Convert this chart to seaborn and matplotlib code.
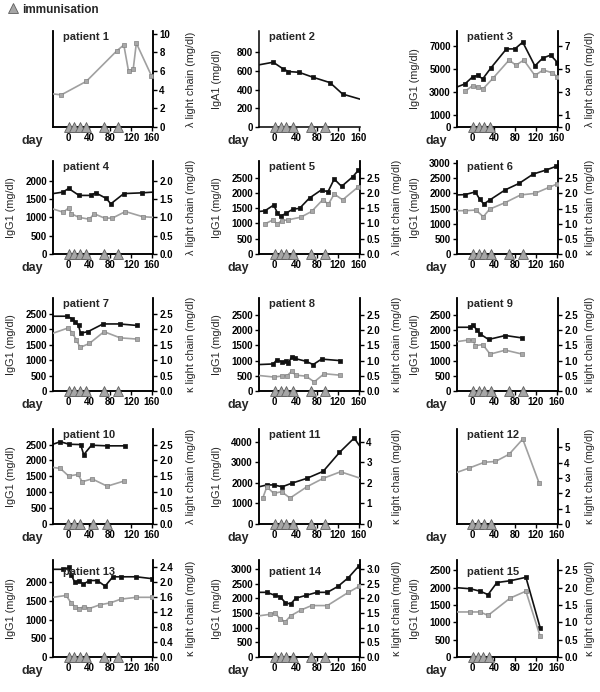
import numpy as np
import pandas as pd
import seaborn as sns
import matplotlib.pyplot as plt
from matplotlib.lines import Line2D

sns.set_style("ticks")
plt.rcParams['font.family'] = ['Liberation Sans', 'DejaVu Sans']

# ---- data (day, value) ----
p1_lc_day = [-30, -14, 34, 93, 106, 115, 124, 130, 159]
p1_lc = [3.55, 3.45, 4.9, 8.2, 8.8, 6.0, 6.2, 9.0, 5.5]

p2_ig_day = [-30, -3, 16, 26, 46, 73, 105, 129, 162]
p2_ig = [667, 695, 623, 595, 587, 533, 476, 353, 299]

p3_ig_day = [-30, -15, 0, 9, 19, 34, 64, 80, 95, 118, 133, 148, 161]
p3_ig = [3440, 3700, 4320, 4430, 4140, 5050, 6710, 6710, 7290, 5250, 5920, 6180, 5540]
p3_lc_day = [-15, 0, 9, 20, 38, 69, 82, 97, 118, 134, 150, 161]
p3_lc = [3.06, 3.56, 3.41, 3.3, 4.17, 5.75, 5.31, 5.75, 4.43, 4.9, 4.67, 4.32]

p4_ig_day = [-30, -11, 0, 20, 42, 52, 72, 81, 106, 140, 162]
p4_ig = [1650, 1690, 1790, 1600, 1600, 1670, 1520, 1370, 1650, 1670, 1690]
p4_lc_day = [-30, -10, 0, 5, 20, 40, 49, 69, 84, 109, 142, 162]
p4_lc = [1.23, 1.14, 1.26, 1.1, 1.0, 0.95, 1.1, 0.98, 0.98, 1.16, 1.02, 1.0]

p5_ig_day = [-30, -19, -2, 5, 11, 21, 35, 47, 66, 89, 101, 113, 127, 148, 159]
p5_ig = [1390, 1410, 1600, 1340, 1230, 1330, 1470, 1490, 1830, 2100, 2030, 2450, 2210, 2520, 2740]
p5_lc_day = [-19, -4, 5, 13, 26, 49, 70, 91, 102, 113, 129, 159]
p5_lc = [0.98, 1.11, 0.98, 1.09, 1.12, 1.2, 1.39, 1.77, 1.63, 1.96, 1.77, 2.2]

p6_ig_day = [-30, -15, 5, 13, 21, 32, 62, 88, 115, 139, 158]
p6_ig = [1950, 1960, 2050, 1810, 1650, 1780, 2120, 2330, 2640, 2770, 2890]
p6_lc_day = [-30, -15, 6, 20, 32, 62, 91, 118, 145, 160]
p6_lc = [1.43, 1.43, 1.45, 1.23, 1.48, 1.7, 1.95, 2.0, 2.2, 2.31]

p7_ig_day = [-30, -4, 7, 13, 19, 23, 37, 66, 98, 132]
p7_ig = [2420, 2420, 2340, 2230, 2120, 1870, 1920, 2170, 2170, 2120]
p7_lc_day = [-30, -1, 7, 15, 22, 40, 68, 99, 132]
p7_lc = [1.87, 2.04, 1.88, 1.65, 1.41, 1.54, 1.92, 1.72, 1.68]

p8_ig_day = [-30, -3, 4, 13, 21, 26, 32, 38, 59, 73, 89, 124]
p8_ig = [870, 890, 1030, 960, 980, 920, 1120, 1070, 980, 870, 1050, 1000]
p8_lc_day = [-30, -2, 13, 24, 32, 40, 59, 75, 94, 124]
p8_lc = [0.51, 0.46, 0.49, 0.51, 0.65, 0.52, 0.49, 0.30, 0.57, 0.52]

p9_ig_day = [-30, -6, 0, 8, 14, 30, 62, 94]
p9_ig = [2090, 2090, 2170, 2000, 1870, 1690, 1820, 1740]
p9_lc_day = [-30, -9, 0, 5, 19, 33, 62, 94]
p9_lc = [1.62, 1.67, 1.67, 1.49, 1.52, 1.21, 1.34, 1.21]

p10_ig_day = [-30, -16, 1, 23, 29, 44, 74, 108]
p10_ig = [2510, 2590, 2510, 2500, 2180, 2480, 2460, 2460]
p10_lc_day = [-30, -16, 0, 18, 26, 45, 74, 106]
p10_lc = [1.78, 1.75, 1.51, 1.56, 1.33, 1.42, 1.19, 1.35]

p11_ig_day = [-30, -15, -2, 14, 32, 61, 92, 123, 151, 162]
p11_ig = [1810, 1900, 1900, 1810, 1980, 2220, 2560, 3480, 4180, 3770]
p11_lc_day = [-23, -15, -2, 13, 29, 61, 92, 125, 162]
p11_lc = [1.25, 1.81, 1.49, 1.57, 1.26, 1.81, 2.22, 2.54, 2.23]

p12_lc_day = [-30, -7, 22, 43, 69, 95, 126]
p12_lc = [3.37, 3.65, 4.03, 4.08, 4.55, 5.54, 2.68]

p13_ig_day = [-30, -10, 0, 5, 12, 20, 28, 40, 55, 70, 85, 100, 130, 160]
p13_ig = [2350, 2350, 2400, 2200, 2000, 2050, 1950, 2050, 2050, 1900, 2150, 2150, 2150, 2100]
p13_lc_day = [-30, -5, 5, 12, 20, 30, 40, 60, 80, 100, 130, 160]
p13_lc = [1.6, 1.65, 1.45, 1.35, 1.3, 1.35, 1.3, 1.4, 1.45, 1.55, 1.6, 1.6]

p14_ig_day = [-30, -15, 0, 10, 20, 30, 40, 60, 80, 100, 120, 140, 160]
p14_ig = [2200, 2200, 2100, 2050, 1850, 1800, 2000, 2100, 2200, 2200, 2400, 2700, 3100]
p14_lc_day = [-30, -10, 0, 10, 20, 30, 50, 70, 100, 140, 160]
p14_lc = [1.4, 1.45, 1.5, 1.3, 1.2, 1.4, 1.6, 1.75, 1.75, 2.2, 2.4]

p15_ig_day = [-30, -5, 14, 29, 46, 71, 101, 128]
p15_ig = [2000, 1970, 1900, 1800, 2150, 2200, 2300, 850]
p15_lc_day = [-30, -5, 14, 29, 71, 101, 128]
p15_lc = [1.3, 1.3, 1.3, 1.2, 1.7, 1.9, 0.6]

imm_full = [0, 11, 22, 34, 68, 95]
imm_p3 = [0, 11, 21, 33]
imm_p10 = [-1, 10, 21, 47, 74]
imm_p12 = [-1, 10, 22, 34]
imm_p15 = [0, 10, 20, 30]

day_ticks = [0, 40, 80, 120, 160]
XLIM = (-30, 162)

BLACK = "#111111"
GREY = "#a0a0a0"
GREY_FACE = "#a8a8a8"
GREY_EDGE = "#808080"
TRI_FACE = "#a6a6a6"
TRI_EDGE = "#5e5e5e"

W, H = 600, 692
fig = plt.figure(figsize=(W / 100, H / 100), dpi=100)

col_x = [(53, 100), (259, 101), (457, 101)]
row_y = [(31, 127), (161, 254), (298, 391), (429, 524), (560, 657)]
title_y = [0.99, 0.99, 0.99, 0.99, 0.93]
right_lab_off = [33, 32, 27]

kappa = "\u03ba light chain (mg/dl)"
lam = "\u03bb light chain (mg/dl)"
igg = "IgG1 (mg/dl)"

panels = [
    # title, ig label, ig data, ig lim, ig ticks, lc label, lc data, lc lim, lc ticks, lc fmt, immunisations
    ("patient 1", None, None, None, None, lam, (p1_lc_day, p1_lc), 10.3, [0, 2, 4, 6, 8, 10], "%d", imm_full),
    ("patient 2", "IgA1 (mg/dl)", (p2_ig_day, p2_ig), 1030, [0, 200, 400, 600, 800], None, None, None, None, None, imm_full),
    ("patient 3", igg, (p3_ig_day, p3_ig), 8250, [0, 1000, 3000, 5000, 7000], lam, (p3_lc_day, p3_lc), 8.25, [0, 1, 3, 5, 7], "%d", imm_p3),
    ("patient 4", igg, (p4_ig_day, p4_ig), 2540, [0, 500, 1000, 1500, 2000], lam, (p4_lc_day, p4_lc), 2.54, [0, 0.5, 1.0, 1.5, 2.0], "%.1f", imm_full),
    ("patient 5", igg, (p5_ig_day, p5_ig), 3040, [0, 500, 1000, 1500, 2000, 2500], lam, (p5_lc_day, p5_lc), 3.04, [0, 0.5, 1.0, 1.5, 2.0, 2.5], "%.1f", imm_full),
    ("patient 6", igg, (p6_ig_day, p6_ig), 3070, [0, 500, 1000, 1500, 2000, 2500, 3000], kappa, (p6_lc_day, p6_lc), 3.07, [0, 0.5, 1.0, 1.5, 2.0, 2.5], "%.1f", imm_full),
    ("patient 7", igg, (p7_ig_day, p7_ig), 3010, [0, 500, 1000, 1500, 2000, 2500], kappa, (p7_lc_day, p7_lc), 3.01, [0, 0.5, 1.0, 1.5, 2.0, 2.5], "%.1f", imm_full),
    ("patient 8", igg, (p8_ig_day, p8_ig), 3060, [0, 500, 1000, 1500, 2000, 2500], kappa, (p8_lc_day, p8_lc), 3.06, [0, 0.5, 1.0, 1.5, 2.0, 2.5], "%.1f", imm_full),
    ("patient 9", igg, (p9_ig_day, p9_ig), 3050, [0, 500, 1000, 1500, 2000, 2500], kappa, (p9_lc_day, p9_lc), 3.05, [0, 0.5, 1.0, 1.5, 2.0, 2.5], "%.1f", imm_full),
    ("patient 10", igg, (p10_ig_day, p10_ig), 2990, [0, 500, 1000, 1500, 2000, 2500], lam, (p10_lc_day, p10_lc), 2.99, [0, 0.5, 1.0, 1.5, 2.0, 2.5], "%.1f", imm_p10),
    ("patient 11", igg, (p11_ig_day, p11_ig), 4620, [0, 1000, 2000, 3000, 4000], kappa, (p11_lc_day, p11_lc), 4.62, [0, 1, 2, 3, 4], "%d", imm_full),
    ("patient 12", None, None, None, None, kappa, (p12_lc_day, p12_lc), 6.2, [0, 1, 2, 3, 4, 5], "%d", imm_p12),
    ("patient 13", igg, (p13_ig_day, p13_ig), 2600, [0, 500, 1000, 1500, 2000], kappa, (p13_lc_day, p13_lc), 2.6, [0, 0.4, 0.8, 1.2, 1.6, 2.0, 2.4], "%.1f", imm_full),
    ("patient 14", igg, (p14_ig_day, p14_ig), 3300, [0, 500, 1000, 1500, 2000, 2500, 3000], kappa, (p14_lc_day, p14_lc), 3.3, [0, 0.5, 1.0, 1.5, 2.0, 2.5, 3.0], "%.1f", imm_full),
    ("patient 15", igg, (p15_ig_day, p15_ig), 2800, [0, 500, 1000, 1500, 2000, 2500], kappa, (p15_lc_day, p15_lc), 2.8, [0, 0.5, 1.0, 1.5, 2.0, 2.5], "%.1f", imm_p15),
]

TICK_FS = 7
LAB_FS = 7.8


def style_axis(ax):
    for s in ax.spines.values():
        s.set_linewidth(1.1)
        s.set_color("black")
    ax.tick_params(axis="both", direction="out", length=3, width=1, pad=1.5,
                   labelsize=TICK_FS, colors="black")
    for lab in ax.get_xticklabels() + ax.get_yticklabels():
        lab.set_fontweight("bold")


def draw_series(ax, days, vals, line_c, face_c, edge_c):
    df = pd.DataFrame({"day": days, "val": vals})
    sns.lineplot(data=df, x="day", y="val", ax=ax, color=line_c, lw=1.2,
                 sort=False, estimator=None, legend=False, zorder=3)
    inner = df[(df["day"] > XLIM[0]) & (df["day"] < XLIM[1])]
    sns.scatterplot(data=inner, x="day", y="val", ax=ax, marker="s", s=9,
                    color=face_c, edgecolor=edge_c, linewidth=0.5,
                    legend=False, zorder=4)
    ax.set_xlabel("")
    ax.set_ylabel("")


for i, (title, ig_lab, ig_data, ig_lim, ig_ticks, lc_lab, lc_data, lc_lim,
        lc_ticks, lc_fmt, imm) in enumerate(panels):
    r, c = divmod(i, 3)
    x0, w = col_x[c]
    top, bot = row_y[r]
    ax = fig.add_axes([x0 / W, 1 - bot / H, w / W, (bot - top) / H])
    ax.set_xlim(*XLIM)

    # left axis (immunoglobulin)
    if ig_data is not None:
        draw_series(ax, ig_data[0], ig_data[1], BLACK, BLACK, BLACK)
        ax.set_ylim(0, ig_lim)
        ax.set_yticks(ig_ticks)
        ax.set_yticklabels([str(t) for t in ig_ticks])
    else:
        ax.set_ylim(0, 1)
        ax.set_yticks([])

    ax.set_xticks(day_ticks)
    ax.set_xticklabels([str(t) for t in day_ticks])
    ax.spines["top"].set_visible(False)
    style_axis(ax)

    # right axis (light chain)
    if lc_data is not None:
        ax2 = ax.twinx()
        draw_series(ax2, lc_data[0], lc_data[1], GREY, GREY_FACE, GREY_EDGE)
        ax2.set_ylim(0, lc_lim)
        ax2.set_yticks(lc_ticks)
        ax2.set_yticklabels([lc_fmt % t for t in lc_ticks])
        ax2.spines["top"].set_visible(False)
        style_axis(ax2)
        tri_ax = ax2
    else:
        ax.spines["right"].set_visible(False)
        tri_ax = ax

    # immunisation triangles sitting on the day axis
    tri = pd.DataFrame({"day": imm, "y": [0] * len(imm)})
    sns.scatterplot(data=tri, x="day", y="y", ax=tri_ax, marker="^", s=50,
                    color=TRI_FACE, edgecolor=TRI_EDGE, linewidth=0.6,
                    clip_on=False, legend=False, zorder=6)
    ax.set_xlabel("")
    ax.set_ylabel(ig_lab or "", fontsize=LAB_FS)
    ax.yaxis.set_label_coords(-37 / w, 0.5)
    if lc_data is not None:
        ax2.set_xlabel("")
        ax2.set_ylabel(lc_lab, fontsize=LAB_FS)
        ax2.yaxis.set_label_coords(1 + right_lab_off[c] / w, 0.5)

    ax.text(0.1, title_y[r], title, transform=ax.transAxes, fontsize=8,
            fontweight="bold", va="top", ha="left", zorder=10)
    fig.text((x0 - 21) / W, 1 - (bot + 14) / H, "day", fontsize=9,
             fontweight="bold", ha="center", va="center")

handle = Line2D([], [], marker="^", linestyle="none", markersize=7,
                markerfacecolor=TRI_FACE, markeredgecolor=TRI_EDGE,
                markeredgewidth=0.6)
fig.legend([handle], ["immunisation"], loc="upper left",
           bbox_to_anchor=(0.0, 1.005), frameon=False, handletextpad=0.3,
           handlelength=1.0, borderaxespad=0.2,
           prop={"weight": "bold", "size": 8.5})

fig.savefig("out.png", dpi=100)
